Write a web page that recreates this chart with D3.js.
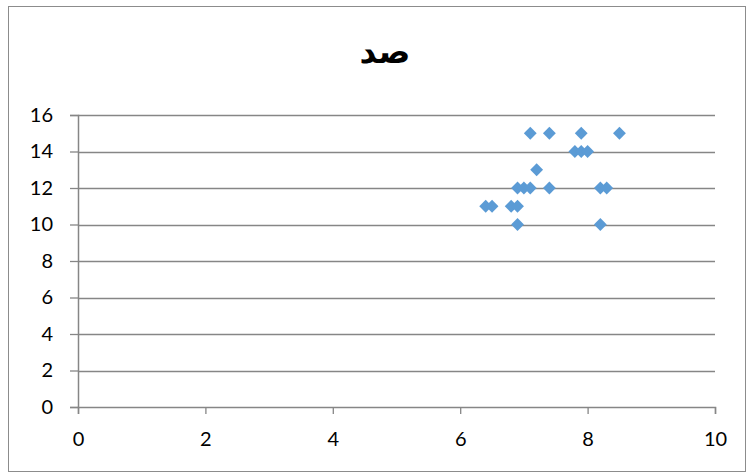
<!DOCTYPE html>
<html>
<head>
<meta charset="utf-8">
<script src="https://cdn.jsdelivr.net/npm/d3@7"></script>
<style>
  body { margin: 0; background: #fff; }
  svg { display: block; }
</style>
</head>
<body>
<svg id="chart" width="748" height="473"></svg>
<script>
// Chart title and axis ticks
const title = "صد";
const xTicks = [0, 2, 4, 6, 8, 10];
const yTicks = [0, 2, 4, 6, 8, 10, 12, 14, 16];

// Scatter values
const xValues = [7.1, 7.4, 7.9, 8.5, 7.8, 7.9, 8.0, 7.2, 6.9, 7.0, 7.1, 7.4, 8.2, 8.3, 6.4, 6.5, 6.8, 6.9, 6.9, 8.2];
const yValues = [15, 15, 15, 15, 14, 14, 14, 13, 12, 12, 12, 12, 12, 12, 11, 11, 11, 11, 10, 10];

const svg = d3.select("#chart");
const plot = { left: 78, right: 715, top: 115, bottom: 407 };
const axisColor = "#868686";
const markColor = "#5B9BD5";
const font = "Lato, 'Open Sans', sans-serif";

// Outer chart border
svg.append("rect")
  .attr("x", 8.5).attr("y", 6.5)
  .attr("width", 737).attr("height", 465)
  .attr("fill", "#fff")
  .attr("stroke", "#8c8c8c")
  .attr("stroke-width", 1);

const x = d3.scaleLinear().domain([0, 10]).range([plot.left, plot.right]);
const y = d3.scaleLinear().domain([0, 16]).range([plot.bottom, plot.top]);

// Horizontal gridlines
svg.append("g")
  .selectAll("line")
  .data(yTicks.filter(d => d !== 0))
  .join("line")
  .attr("x1", plot.left).attr("x2", plot.right)
  .attr("y1", d => Math.round(y(d)) + 0.5)
  .attr("y2", d => Math.round(y(d)) + 0.5)
  .attr("stroke", axisColor)
  .attr("stroke-width", 1.3);

// Y axis
const yAxis = svg.append("g")
  .attr("transform", `translate(${plot.left},0)`)
  .call(d3.axisLeft(y).tickValues(yTicks).tickSize(8).tickPadding(17).tickFormat(d3.format("d")));
yAxis.select(".domain").attr("stroke", axisColor).attr("stroke-width", 1.5);
yAxis.selectAll(".tick line").attr("stroke", axisColor).attr("stroke-width", 1.3);
yAxis.selectAll(".tick text")
  .attr("fill", "#000").attr("font-size", 20).attr("font-family", font);

// X axis
const xAxis = svg.append("g")
  .attr("transform", `translate(0,${plot.bottom})`)
  .call(d3.axisBottom(x).tickValues(xTicks).tickSize(7).tickPadding(18).tickFormat(d3.format("d")));
xAxis.select(".domain").attr("stroke", axisColor).attr("stroke-width", 1.5);
xAxis.selectAll(".tick line").attr("stroke", axisColor).attr("stroke-width", 1.3);
xAxis.selectAll(".tick text")
  .attr("fill", "#000").attr("font-size", 20).attr("font-family", font);

// Diamond markers
const diamond = d3.symbol().type(d3.symbolDiamond2).size(105);
svg.append("g")
  .selectAll("path")
  .data(xValues.map((v, i) => [v, yValues[i]]))
  .join("path")
  .attr("d", diamond)
  .attr("transform", d => `translate(${x(d[0])},${y(d[1])})`)
  .attr("fill", markColor);

// Title
svg.append("text")
  .attr("x", 385).attr("y", 63)
  .attr("text-anchor", "middle")
  .attr("font-family", "'DejaVu Sans', sans-serif")
  .attr("font-weight", "bold")
  .attr("font-size", 33)
  .attr("fill", "#000")
  .text(title);
</script>
</body>
</html>
